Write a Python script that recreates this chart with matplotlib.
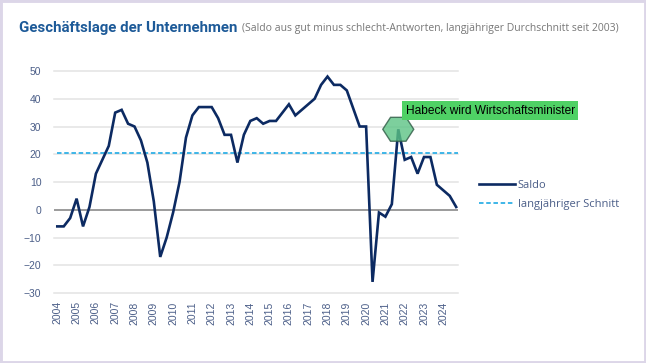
import matplotlib
matplotlib.use('Agg')
import matplotlib.pyplot as plt
from matplotlib.patches import Rectangle, RegularPolygon
import matplotlib.transforms as mtransforms
import numpy as np

# DIHK-Umfrage: drei Erhebungen pro Jahr (Jahresbeginn, Frühsommer, Herbst)
saldo = [
    -6, -6, -3,      # 2004
    4, -6, 1,        # 2005
    13, 18, 23,      # 2006
    35, 36, 31,      # 2007
    30, 25, 17,      # 2008
    3, -17, -10,     # 2009
    -1, 10, 26,      # 2010
    34, 37, 37,      # 2011
    37, 33, 27,      # 2012
    27, 17, 27,      # 2013
    32, 33, 31,      # 2014
    32, 32, 35,      # 2015
    38, 34, 36,      # 2016
    38, 40, 45,      # 2017
    48, 45, 45,      # 2018
    43, 36.5, 30,    # 2019
    30, -26, -1,     # 2020
    -2.5, 2, 29,     # 2021
    18, 19, 13,      # 2022
    19, 19, 9,       # 2023
    7, 5, 1,         # 2024
]
schnitt = 20.3
years = list(range(2004, 2025))
y_ticks = [-30, -20, -10, 0, 10, 20, 30, 40, 50]
marker_idx = 53
annotation = 'Habeck wird Wirtschaftsminister'

x = np.array([2004 + i / 3 for i in range(len(saldo))])

fig = plt.figure(figsize=(6.46, 3.63), dpi=100)
W, H = 646, 363

# Rahmen
fig.patches.append(Rectangle((0, 0), 1, 1, transform=fig.transFigure,
                             facecolor='white', edgecolor='#dcd6e8',
                             linewidth=3.5, zorder=-10))

ax = fig.add_axes([54 / W, (H - 293) / H, (458 - 54) / W, (293 - 71) / H])
ax.set_xlim(2004 - 3.3 / 19.3, 2004 + (458 - 57.3) / 19.3)
ax.set_ylim(-30, 50)

for yt in y_ticks:
    if yt == 0:
        ax.axhline(yt, color='#808080', linewidth=1.1, zorder=1)
    else:
        ax.axhline(yt, color='#e3e3e3', linewidth=1.1, zorder=0, clip_on=False)

ax.plot([x[0], ax.get_xlim()[1]], [schnitt, schnitt], color='#2fb0e6',
        linestyle=(0, (2.5, 1.5)), linewidth=1.3, zorder=2, label='langjähriger Schnitt')
ax.plot(x, saldo, color='#0c2a62', linewidth=1.9, zorder=3,
        solid_joinstyle='miter', label='Saldo')

# Markierung (Sechseck in Pixelgröße um den Datenpunkt)
cx, cy = ax.transData.transform((x[marker_idx], saldo[marker_idx]))
hexa = RegularPolygon((0, 0), numVertices=6, radius=1, orientation=np.pi / 6,
                      facecolor='#5cc485', alpha=0.8, edgecolor='#2f5a45',
                      linewidth=1.0, zorder=4)
hexa.set_transform(mtransforms.Affine2D().scale(15.5, 13.8).translate(cx, cy))
ax.add_patch(hexa)

fig.text(405.5 / W, 1 - 110.5 / H, annotation, fontsize=8.6, color='black',
         family='Liberation Sans', va='center', ha='left',
         bbox=dict(boxstyle='square,pad=0.28', facecolor='#4fd165',
                   edgecolor='none'))

ax.set_yticks(y_ticks)
ax.set_xticks(years)
ax.set_xticklabels([str(yv) for yv in years], rotation=90, va='top')
ax.tick_params(axis='both', length=0, labelsize=7.5, colors='#4b5e88',
               labelfontfamily='Liberation Sans')
ax.tick_params(axis='y', pad=9)
ax.tick_params(axis='x', pad=6)
for s in ax.spines.values():
    s.set_visible(False)
ax.patch.set_alpha(0)

# Legende
leg = ax.legend(handles=ax.lines[-1:] + ax.lines[-2:-1], loc='upper left',
                bbox_to_anchor=(469 / W, 1 - 170 / H), bbox_transform=fig.transFigure,
                frameon=False, handlelength=3.2, handletextpad=0.3,
                labelspacing=0.75, prop={'family': 'Open Sans', 'size': 8})
for t in leg.get_texts():
    t.set_color('#4b5e88')

fig.text(19 / W, 1 - 28 / H, 'Geschäftslage der Unternehmen', fontsize=10.8,
         fontweight='bold', color='#1d5a98', family='Roboto',
         va='center', ha='left')
fig.text(242 / W, 1 - 29 / H,
         '(Saldo aus gut minus schlecht-Antworten, langjähriger Durchschnitt seit 2003)',
         fontsize=7.5, color='#777777', family='Open Sans', va='center', ha='left')

fig.savefig('out.png', dpi=100)
